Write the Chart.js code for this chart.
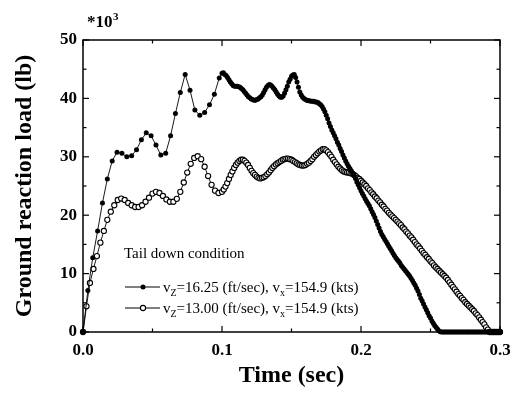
<!DOCTYPE html>
<html>
<head>
<meta charset="utf-8">
<script src="https://cdn.jsdelivr.net/npm/chart.js@4.4.1/dist/chart.umd.min.js"></script>
<style>
  html, body { margin: 0; padding: 0; background: #fff; overflow: hidden; }
  canvas { display: block; }
</style>
</head>
<body>
<canvas id="c" width="510" height="397"></canvas>
<script>
// ---------- data (values in thousands of lb) ----------
// filled markers: v_z = 16.25 ft/sec
const filledEarlyStart = 0, filledEarlyStep = 0.0035;
const filledEarly = [0, 7.1, 12.7, 17.3, 22.1, 26.2, 29.3, 30.8, 30.6, 30.0, 30.2, 31.2, 32.9, 34.1, 33.6,
  32.0, 30.3, 30.6, 33.6, 37.4, 41.0, 44.1, 41.4, 38.0, 37.1, 37.6, 38.9, 40.7, 43.5];
const filledLateStart = 0.1, filledLateStep = 0.001;
const filledLate = [
  44.3, 44.4, 44.1, 43.9, 43.6, 43.2, 42.8, 42.5, 42.2, 42.1,
  42.1, 42.1, 42.0, 41.9, 41.7, 41.5, 41.2, 40.9, 40.6, 40.3,
  40.1, 39.9, 39.8, 39.7, 39.7, 39.8, 39.9, 40.1, 40.3, 40.6,
  41.0, 41.5, 41.9, 42.2, 42.4, 42.3, 42.1, 41.8, 41.5, 41.1,
  40.7, 40.4, 40.2, 40.2, 40.4, 40.9, 41.5, 42.1, 42.8, 43.3,
  43.8, 44.0, 44.1, 43.6, 42.8, 41.9, 41.1, 40.6, 40.2, 40.0,
  39.8, 39.7, 39.6, 39.6, 39.5, 39.5, 39.5, 39.4, 39.4, 39.3,
  39.1, 38.9, 38.6, 38.2, 37.7, 37.1, 36.5, 35.8, 35.2, 34.6,
  34.1, 33.6, 33.1, 32.5, 32.0, 31.4, 30.9, 30.3, 29.8, 29.3,
  28.8, 28.4, 28.0, 27.6, 27.2, 26.8, 26.3, 25.7, 25.2, 24.7,
  24.2, 23.7, 23.3, 22.8, 22.4, 22.0, 21.6, 21.1, 20.6, 20.1,
  19.6, 19.0, 18.4, 17.8, 17.2, 16.7, 16.3, 15.9, 15.5, 15.1,
  14.7, 14.3, 13.9, 13.5, 13.1, 12.7, 12.4, 12.1, 11.8, 11.4,
  11.1, 10.8, 10.5, 10.2, 9.9, 9.6, 9.2, 8.8, 8.4, 8.0,
  7.5, 7.0, 6.4, 5.8, 5.3, 4.8, 4.3, 3.8, 3.3, 2.8,
  2.4, 1.9, 1.5, 1.1, 0.8, 0.5, 0.2, 0.05, 0, 0,
  0, 0, 0, 0, 0, 0, 0, 0, 0, 0,
  0, 0, 0, 0, 0, 0, 0, 0, 0, 0,
  0, 0, 0, 0, 0, 0, 0, 0, 0, 0,
  0, 0, 0, 0, 0, 0, 0, 0, 0, 0,
  0];
// open markers: v_z = 13.00 ft/sec
const openEarlyStart = 0, openEarlyStep = 0.0025;
const openEarly = [0, 4.4, 8.4, 10.8, 13.0, 15.3, 17.3, 19.2, 20.6, 21.7,
  22.6, 22.85, 22.6, 22.1, 21.7, 21.4, 21.4, 21.7, 22.3, 23.0,
  23.7, 24.0, 23.8, 23.3, 22.7, 22.3, 22.3, 22.8, 24.0, 25.6,
  27.3, 28.8, 29.8, 30.1, 29.6, 28.3, 26.7, 25.2, 24.2, 23.8];
const openLateStart = 0.1, openLateStep = 0.00125;
const openLate = [
  24.0, 24.4, 24.9, 25.5, 26.2, 26.9, 27.5, 28.1,
  28.6, 29.0, 29.3, 29.5, 29.5, 29.3, 29.0, 28.6,
  28.1, 27.6, 27.2, 26.9, 26.6, 26.4, 26.3, 26.4,
  26.5, 26.7, 27.0, 27.3, 27.7, 28.1, 28.4, 28.7,
  28.9, 29.1, 29.3, 29.5, 29.6, 29.7, 29.7, 29.6,
  29.5, 29.3, 29.1, 28.9, 28.7, 28.6, 28.5, 28.5,
  28.6, 28.8, 29.0, 29.3, 29.6, 30.0, 30.3, 30.6,
  30.9, 31.1, 31.3, 31.3, 31.1, 30.8, 30.4, 30.0,
  29.5, 29.1, 28.7, 28.3, 28.0, 27.7, 27.5, 27.4,
  27.3, 27.3, 27.2, 27.1, 26.9, 26.7, 26.4, 26.2,
  25.9, 25.6, 25.3, 25.0, 24.6, 24.3, 23.9, 23.6,
  23.2, 22.9, 22.5, 22.2, 21.8, 21.5, 21.1, 20.8,
  20.4, 20.1, 19.8, 19.5, 19.2, 18.9, 18.6, 18.3,
  17.9, 17.6, 17.2, 16.9, 16.5, 16.2, 15.8, 15.4,
  15.0, 14.7, 14.3, 13.9, 13.5, 13.2, 12.8, 12.5,
  12.1, 11.8, 11.4, 11.1, 10.8, 10.5, 10.2, 9.9,
  9.6, 9.3, 8.9, 8.5, 8.1, 7.7, 7.3, 6.9,
  6.5, 6.2, 5.8, 5.5, 5.1, 4.8, 4.5, 4.2,
  3.9, 3.6, 3.2, 2.9, 2.5, 2.1, 1.7, 1.3,
  0.8, 0.4, 0, 0, 0, 0, 0, 0,
  0];

const xTickLabels = ['0.0', '0.1', '0.2', '0.3'];
const yTickLabels = ['0', '10', '20', '30', '40', '50'];
const xMinorTicks = [0.05, 0.15, 0.25];
const yMinorTicks = [5, 15, 25, 35, 45];
const seriesNames = ['vZ=16.25 (ft/sec), vx=154.9 (kts)', 'vZ=13.00 (ft/sec), vx=154.9 (kts)'];
const legendParts = [
  [['v', false], ['Z', true], ['=16.25 (ft/sec), v', false], ['x', true], ['=154.9 (kts)', false]],
  [['v', false], ['Z', true], ['=13.00 (ft/sec), v', false], ['x', true], ['=154.9 (kts)', false]]
];
const noteText = 'Tail down condition';
const xTitle = 'Time (sec)';
const yTitle = 'Ground reaction load (lb)';
const scaleNote = ['*10', '3'];

// ---------- build points ----------
function toPoints(start, step, vals) {
  return vals.map((v, i) => ({ x: +(start + i * step).toFixed(6), y: v }));
}
const filledPoints = toPoints(filledEarlyStart, filledEarlyStep, filledEarly)
  .concat(toPoints(filledLateStart, filledLateStep, filledLate));
const openPoints = toPoints(openEarlyStart, openEarlyStep, openEarly)
  .concat(toPoints(openLateStart, openLateStep, openLate));

const SERIF = "'Liberation Serif', 'Times New Roman', Times, serif";
Chart.defaults.font.family = SERIF;
Chart.defaults.color = '#000';

function drawRich(ctx, parts, x, y, size) {
  let cx = x;
  parts.forEach(([t, sub]) => {
    ctx.font = (sub ? Math.round(size * 0.68) : size) + 'px ' + SERIF;
    ctx.fillText(t, cx, sub ? y + 4 : y);
    cx += ctx.measureText(t).width;
  });
}

const framePlugin = {
  id: 'frame',
  afterDraw(chart) {
    const { ctx, chartArea: a, scales: { x, y } } = chart;
    ctx.save();
    ctx.strokeStyle = '#000';
    ctx.fillStyle = '#000';
    ctx.lineWidth = 1.5;
    ctx.strokeRect(a.left, a.top, a.right - a.left, a.bottom - a.top);
    ctx.lineWidth = 1.2;
    const seg = (x1, y1, x2, y2) => { ctx.beginPath(); ctx.moveTo(x1, y1); ctx.lineTo(x2, y2); ctx.stroke(); };
    x.ticks.forEach(t => { const p = x.getPixelForValue(t.value); seg(p, a.bottom, p, a.bottom - 6); seg(p, a.top, p, a.top + 6); });
    xMinorTicks.forEach(v => { const p = x.getPixelForValue(v); seg(p, a.bottom, p, a.bottom - 3.5); seg(p, a.top, p, a.top + 3.5); });
    y.ticks.forEach(t => { const p = y.getPixelForValue(t.value); seg(a.left, p, a.left + 6, p); seg(a.right, p, a.right - 6, p); });
    yMinorTicks.forEach(v => { const p = y.getPixelForValue(v); seg(a.left, p, a.left + 3.5, p); seg(a.right, p, a.right - 3.5, p); });

    // scale note *10^3
    ctx.textBaseline = 'alphabetic';
    ctx.font = 'bold 17px ' + SERIF;
    ctx.fillText(scaleNote[0], a.left + 4, 27);
    const w = ctx.measureText(scaleNote[0]).width;
    ctx.font = 'bold 11px ' + SERIF;
    ctx.fillText(scaleNote[1], a.left + 4 + w + 0.5, 20);

    // note text
    ctx.font = '15px ' + SERIF;
    ctx.fillText(noteText, a.left + 41, 258);

    // legend
    const rows = [287, 308];
    chart.data.datasets.forEach((ds, i) => {
      const yy = rows[i];
      ctx.strokeStyle = '#000';
      ctx.lineWidth = 1;
      seg(a.left + 42, yy, a.left + 77, yy);
      ctx.beginPath();
      ctx.arc(a.left + 60, yy, ds.pointRadius, 0, Math.PI * 2);
      ctx.fillStyle = ds.pointBackgroundColor;
      ctx.fill();
      if (ds.pointBorderWidth > 0) { ctx.lineWidth = ds.pointBorderWidth; ctx.stroke(); }
      ctx.fillStyle = '#000';
      drawRich(ctx, legendParts[i], a.left + 80, yy + 5, 15);
    });
    ctx.restore();
  }
};

new Chart(document.getElementById('c'), {
  type: 'scatter',
  data: {
    datasets: [
      {
        label: seriesNames[0],
        data: filledPoints,
        showLine: true,
        borderColor: '#000',
        borderWidth: 0.9,
        pointRadius: 2.5,
        pointBackgroundColor: '#000',
        pointBorderColor: '#000',
        pointBorderWidth: 0,
        order: 0,
        clip: 6
      },
      {
        label: seriesNames[1],
        data: openPoints,
        showLine: true,
        borderColor: '#000',
        borderWidth: 0.9,
        pointRadius: 2.6,
        pointBackgroundColor: '#fff',
        pointBorderColor: '#000',
        pointBorderWidth: 1.1,
        order: 1,
        clip: 6
      }
    ]
  },
  options: {
    responsive: false,
    animation: false,
    devicePixelRatio: 1,
    layout: { padding: { top: 40, right: 10, left: 0, bottom: 0 } },
    plugins: { legend: { display: false }, tooltip: { enabled: false } },
    scales: {
      x: {
        type: 'linear',
        min: 0, max: 0.3,
        grid: { display: false, drawTicks: false },
        border: { display: false },
        ticks: {
          stepSize: 0.1,
          padding: 8,
          font: { size: 17, weight: 'bold' },
          color: '#000',
          maxRotation: 0,
          callback: (v, i) => xTickLabels[i]
        },
        title: {
          display: true, text: xTitle, color: '#000',
          font: { size: 24, weight: 'bold' },
          padding: { top: 0, bottom: 7 }
        },
        afterFit: s => { s.height = 65; s.paddingLeft = 0; s.paddingRight = 0; }
      },
      y: {
        type: 'linear',
        min: 0, max: 50,
        grid: { display: false, drawTicks: false },
        border: { display: false },
        ticks: {
          stepSize: 10,
          padding: 6,
          font: { size: 17, weight: 'bold' },
          color: '#000',
          callback: (v, i) => yTickLabels[i]
        },
        title: {
          display: true, text: yTitle, color: '#000',
          font: { size: 24, weight: 'bold' },
          padding: { top: 10, bottom: 0 }
        },
        afterFit: s => { s.width = 83; }
      }
    }
  },
  plugins: [framePlugin]
});
</script>
</body>
</html>
